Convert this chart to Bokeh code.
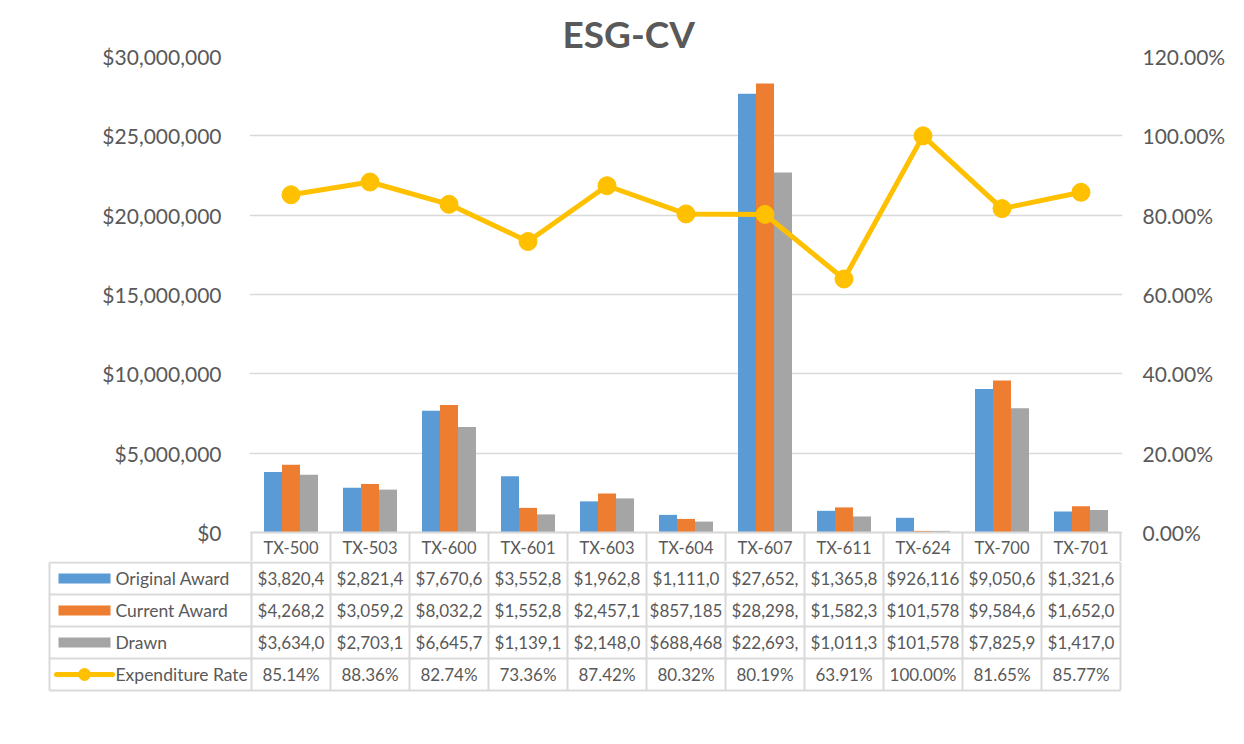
from bokeh.plotting import figure
from bokeh.models import Range1d, LinearAxis, NumeralTickFormatter, SingleIntervalTicker, FixedTicker, ColumnDataSource
from bokeh.embed import file_html
from bokeh.resources import INLINE
from bokeh.core.properties import value

# ---------------- data ----------------
title = "ESG-CV"
projects = ["TX-500", "TX-503", "TX-600", "TX-601", "TX-603", "TX-604",
            "TX-607", "TX-611", "TX-624", "TX-700", "TX-701"]
original_award = [3820400, 2821400, 7670600, 3552800, 1962800, 1111000,
                  27652000, 1365800, 926116, 9050600, 1321600]
current_award = [4268200, 3059200, 8032200, 1552800, 2457100, 857185,
                 28298000, 1582300, 101578, 9584600, 1652000]
drawn = [3634000, 2703100, 6645700, 1139100, 2148000, 688468,
         22693000, 1011300, 101578, 7825900, 1417000]
expenditure_rate = [85.14, 88.36, 82.74, 73.36, 87.42, 80.32,
                    80.19, 63.91, 100.00, 81.65, 85.77]
series_names = ["Original Award", "Current Award", "Drawn", "Expenditure Rate"]
rate_ticks = [0.0, 0.2, 0.4, 0.6, 0.8, 1.0, 1.2]

# ---------------- style ----------------
BLUE, ORANGE, GRAY, GOLD = "#5B9BD5", "#ED7D31", "#A5A5A5", "#FFC000"
TXT, GRID = "#595959", "#D9D9D9"
FONT = "Lato"
W = 1240
PX = 79.0                 # px per category
MPP = 30e6 / 476.0        # money per px
RPP = 1.2 / 476.0         # rate per px
n = len(projects)

# ---------------- chart ----------------
p = figure(width=W, height=561, output_backend="svg", toolbar_location=None,
           x_range=Range1d(-2 / PX, n + 2 / PX),
           y_range=Range1d(-29 * MPP, 30e6),
           x_axis_location=None, y_axis_location="left",
           min_border_left=249, min_border_right=W - 1122, min_border_top=56,
           min_border_bottom=0, outline_line_color=None,
           background_fill_color="white", border_fill_color="white")
p.title.text = title
p.title.text_font = FONT
p.title.text_font_size = "37px"
p.title.text_font_style = "bold"
p.title.text_color = TXT
p.title.align = "left"
p.title.offset = 313
p.title.standoff = 2

p.xgrid.visible = False
p.ygrid.grid_line_color = GRID
p.ygrid.grid_line_width = 1.5

ya = p.yaxis[0]
ya.ticker = SingleIntervalTicker(interval=5e6)
ya.formatter = NumeralTickFormatter(format="$0,0")
ya.axis_line_color = None
ya.major_tick_line_color = None
ya.minor_tick_line_color = None
ya.major_tick_out = 0
ya.major_tick_in = 0
ya.major_label_text_font = FONT
ya.major_label_text_font_size = "21px"
ya.major_label_text_color = TXT
ya.major_label_standoff = 24

p.extra_y_ranges = {"rate": Range1d(-29 * RPP, 1.2)}
ra = LinearAxis(y_range_name="rate", ticker=FixedTicker(ticks=rate_ticks),
                formatter=NumeralTickFormatter(format="0.00%"))
ra.axis_line_color = None
ra.major_tick_line_color = None
ra.minor_tick_line_color = None
ra.major_tick_out = 0
ra.major_tick_in = 0
ra.major_label_text_font = FONT
ra.major_label_text_font_size = "21px"
ra.major_label_text_color = TXT
ra.major_label_standoff = 20
p.add_layout(ra, "right")

bw = 18 / PX
centers = [i + 0.5 for i in range(n)]
src = ColumnDataSource(dict(
    xb=[c - bw for c in centers], xo=centers, xg=[c + bw for c in centers],
    orig=original_award, cur=current_award, drawn=drawn,
    rate=[r / 100 for r in expenditure_rate]))
p.vbar(x="xb", top="orig", width=bw, bottom=0, source=src, fill_color=BLUE, line_color=None)
p.vbar(x="xo", top="cur", width=bw, bottom=0, source=src, fill_color=ORANGE, line_color=None)
p.vbar(x="xg", top="drawn", width=bw, bottom=0, source=src, fill_color=GRAY, line_color=None)
p.line(x="xo", y="rate", source=src, y_range_name="rate", line_color=GOLD, line_width=5)
p.scatter(x="xo", y="rate", source=src, y_range_name="rate", size=18,
          fill_color=GOLD, line_color=GOLD)

# header row of data table (inside chart figure, below zero)
p.segment(x0=list(range(n + 1)), y0=[0] * (n + 1), x1=list(range(n + 1)),
          y1=[-29 * MPP] * (n + 1), line_color=GRID, line_width=2)
p.segment(x0=[0], y0=[0], x1=[n], y1=[0], line_color=GRID, line_width=2)
p.text(x=centers, y=[-15 * MPP] * n, text=projects, text_align="center",
       text_baseline="middle", text_font=value(FONT), text_font_size="16.5px",
       text_color=TXT)

# ---------------- data table ----------------
left_edge = -(251 - 49) / PX
t = figure(width=W, height=180, output_backend="svg", toolbar_location=None,
           x_range=Range1d(-(251 - 47) / PX, n + 2 / PX),
           y_range=Range1d((180 - 1) / 32, -1 / 32),
           x_axis_location=None, y_axis_location=None,
           min_border_left=47, min_border_right=W - 1122, min_border_top=0,
           min_border_bottom=0, outline_line_color=None,
           background_fill_color="white", border_fill_color="white")
t.grid.visible = False
rows = len(series_names)
t.segment(x0=[left_edge] * (rows + 1), y0=list(range(rows + 1)),
          x1=[n] * (rows + 1), y1=list(range(rows + 1)), line_color=GRID, line_width=2)
vx = [left_edge] + list(range(n + 1))
t.segment(x0=vx, y0=[0] * len(vx), x1=vx, y1=[rows] * len(vx), line_color=GRID, line_width=2)

cell_x, cell_y, cell_t = [], [], []
for r, vals in enumerate([original_award, current_award, drawn]):
    for i, v in enumerate(vals):
        cell_x.append(i + 0.5); cell_y.append(r + 0.5)
        cell_t.append(f"${v:,.0f}"[:8])
for i, v in enumerate(expenditure_rate):
    cell_x.append(i + 0.5); cell_y.append(3.5)
    cell_t.append(f"{v:.2f}%")
t.text(x=cell_x, y=cell_y, text=cell_t, text_align="center", text_baseline="middle",
       text_font=value(FONT), text_font_size="17px", text_color=TXT)

t.text(x=[(115 - 251) / PX] * rows, y=[r + 0.5 for r in range(rows)], text=series_names,
       text_align="left", text_baseline="middle", text_font=value(FONT),
       text_font_size="17.5px", text_color=TXT)
t.rect(x=[(84 - 251) / PX] * 3, y=[0.5, 1.5, 2.5], width=52 / PX, height=10 / 32,
       fill_color=[BLUE, ORANGE, GRAY], line_color=None)
t.segment(x0=[(56 - 251) / PX], y0=[3.5], x1=[(112 - 251) / PX], y1=[3.5],
          line_color=GOLD, line_width=5, line_cap="round")
t.scatter(x=[(84 - 251) / PX], y=[3.5], size=12, fill_color=GOLD, line_color=GOLD)

open("out.html", "w").write(file_html([p, t], INLINE))
